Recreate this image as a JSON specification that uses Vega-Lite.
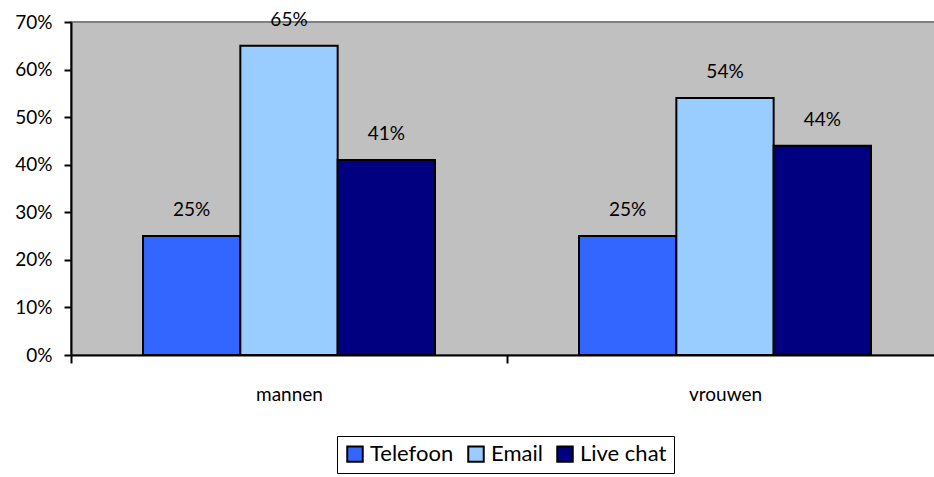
{
  "$schema": "https://vega.github.io/schema/vega-lite/v6.json",
  "autosize": {"type": "none"},
  "padding": {"left": 71, "top": 22, "right": 0, "bottom": 122},
  "width": 872,
  "height": 333,
  "background": "white",
  "config": {
    "font": "Lato",
    "view": {"fill": "#C0C0C0", "stroke": "#808080", "strokeWidth": 2},
    "axis": {"labelFont": "Lato", "labelFontSize": 19, "labelColor": "#000000", "domainColor": "#000000", "tickColor": "#000000", "domainWidth": 2, "tickWidth": 2, "grid": false}
  },
  "data": {"values": [
    {"groep": "mannen", "kanaal": "Telefoon", "waarde": 0.25},
    {"groep": "mannen", "kanaal": "Email", "waarde": 0.65},
    {"groep": "mannen", "kanaal": "Live chat", "waarde": 0.41},
    {"groep": "vrouwen", "kanaal": "Telefoon", "waarde": 0.25},
    {"groep": "vrouwen", "kanaal": "Email", "waarde": 0.54},
    {"groep": "vrouwen", "kanaal": "Live chat", "waarde": 0.44}
  ]},
  "encoding": {
    "x": {"field": "groep", "type": "nominal", "sort": ["mannen", "vrouwen"],
      "scale": {"paddingInner": 0, "paddingOuter": 0},
      "axis": {"title": null, "labelAngle": 0, "tickBand": "extent", "tickSize": 8, "labelPadding": 22, "labelFontSize": 19}},
    "xOffset": {"field": "kanaal", "type": "nominal", "sort": ["Telefoon", "Email", "Live chat"], "scale": {"paddingInner": 0, "paddingOuter": 0.74}},
    "y": {"field": "waarde", "type": "quantitative", "scale": {"domain": [0, 0.7], "nice": false},
      "axis": {"title": null, "format": ".0%", "values": [0, 0.1, 0.2, 0.3, 0.4, 0.5, 0.6, 0.7], "tickSize": 7, "labelPadding": 12}}
  },
  "layer": [
    {
      "mark": {"type": "bar", "stroke": "#000000", "strokeWidth": 2},
      "encoding": {
        "color": {"field": "kanaal", "type": "nominal", "sort": ["Telefoon", "Email", "Live chat"],
          "scale": {"domain": ["Telefoon", "Email", "Live chat"], "range": ["#3366FF", "#99CCFF", "#000080"]},
          "legend": {"title": null, "orient": "none", "direction": "horizontal", "legendX": 266, "legendY": 414,
            "symbolType": "square", "symbolSize": 240, "symbolStrokeColor": "#000000", "symbolStrokeWidth": 2,
            "labelFont": "Lato", "labelFontSize": 22, "labelColor": "#000000", "labelOffset": 4, "columnPadding": 10,
            "strokeColor": "#000000", "padding": 7, "fillColor": "white"}}
      }
    },
    {
      "mark": {"type": "text", "dy": -26, "fontSize": 19, "font": "Lato", "color": "#000000", "baseline": "middle"},
      "encoding": {"text": {"field": "waarde", "type": "quantitative", "format": ".0%"}}
    }
  ]
}
